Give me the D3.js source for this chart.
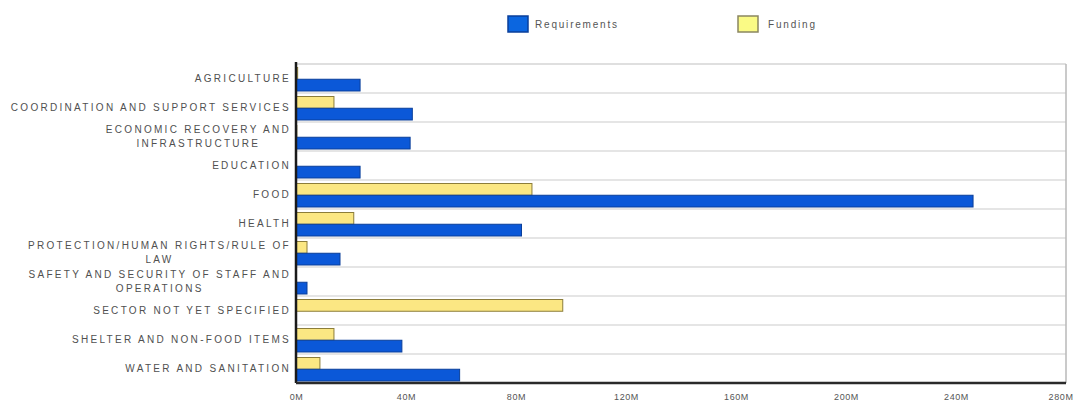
<!DOCTYPE html>
<html>
<head>
<meta charset="utf-8">
<script src="https://cdn.jsdelivr.net/npm/d3@7"></script>
<style>
  body { margin: 0; background: #fff; }
  text { font-family: "Liberation Sans", Arial, sans-serif; }
</style>
</head>
<body>
<svg width="1074" height="405"></svg>
<script>
var categories = [
  ["AGRICULTURE"],
  ["COORDINATION AND SUPPORT SERVICES"],
  ["ECONOMIC RECOVERY AND", "INFRASTRUCTURE"],
  ["EDUCATION"],
  ["FOOD"],
  ["HEALTH"],
  ["PROTECTION/HUMAN RIGHTS/RULE OF", "LAW"],
  ["SAFETY AND SECURITY OF STAFF AND", "OPERATIONS"],
  ["SECTOR NOT YET SPECIFIED"],
  ["SHELTER AND NON-FOOD ITEMS"],
  ["WATER AND SANITATION"]
];
// values in millions (USD)
var requirements = [23.3, 42.3, 41.5, 23.3, 246.2, 82, 16, 4, 0, 38.5, 59.5];
var funding = [0.6, 13.8, 0.3, 0, 85.8, 21, 4, 0, 97, 13.8, 8.7];
var tickValues = [0, 40, 80, 120, 160, 200, 240, 280];
var seriesNames = ["Requirements", "Funding"];

var svg = d3.select("svg");
var plotL = 296, plotR = 1066, plotT = 64, plotB = 383;

var x = d3.scaleLinear().domain([0, 280]).range([plotL, plotR]);
var keys = categories.map(function(d) { return d.join(" "); });
var y = d3.scaleBand().domain(keys).range([plotT, plotB]);
var sub = d3.scaleBand().domain(["Funding", "Requirements"])
  .range([3.5, y.bandwidth() - 2]);

var rows = keys.map(function(k, i) {
  return { key: k, lines: categories[i], req: requirements[i], fund: funding[i] };
});

// grid
svg.append("g")
  .selectAll("line")
  .data(keys.slice(1))
  .enter().append("line")
  .attr("x1", plotL).attr("x2", plotR)
  .attr("y1", function(d) { return y(d); })
  .attr("y2", function(d) { return y(d); })
  .attr("stroke", "#dcdcdc")
  .attr("stroke-width", 1.5);

svg.append("line")
  .attr("x1", plotL).attr("x2", plotR).attr("y1", plotT).attr("y2", plotT)
  .attr("stroke", "#d4d4d4").attr("stroke-width", 1.5);
svg.append("line")
  .attr("x1", plotR).attr("x2", plotR).attr("y1", plotT).attr("y2", plotB)
  .attr("stroke", "#b8b8b8").attr("stroke-width", 1.5);

// bars
var bars = svg.append("g");
bars.selectAll("rect.fund")
  .data(rows.filter(function(d) { return d.fund > 0; }))
  .enter().append("rect")
  .attr("class", "fund")
  .attr("x", x(0))
  .attr("y", function(d) { return y(d.key) + sub("Funding"); })
  .attr("width", function(d) { return x(d.fund) - x(0); })
  .attr("height", sub.bandwidth())
  .attr("fill", "#fbe783")
  .attr("stroke", "#8c7d3a")
  .attr("stroke-width", 1);

bars.selectAll("rect.req")
  .data(rows.filter(function(d) { return d.req > 0; }))
  .enter().append("rect")
  .attr("class", "req")
  .attr("x", x(0))
  .attr("y", function(d) { return y(d.key) + sub("Requirements"); })
  .attr("width", function(d) { return x(d.req) - x(0); })
  .attr("height", sub.bandwidth())
  .attr("fill", "#0b58d8")
  .attr("stroke", "#0a3f9a")
  .attr("stroke-width", 1);

// axes lines
svg.append("line")
  .attr("x1", plotL).attr("x2", plotL).attr("y1", plotT - 2).attr("y2", plotB)
  .attr("stroke", "#1a1a1a").attr("stroke-width", 2.5);
svg.append("line")
  .attr("x1", plotL).attr("x2", plotR).attr("y1", plotB).attr("y2", plotB)
  .attr("stroke", "#2a2a2a").attr("stroke-width", 2.5);

// bottom axis labels
var xAxis = svg.append("g")
  .attr("transform", "translate(0," + plotB + ")")
  .call(d3.axisBottom(x)
    .tickValues(tickValues)
    .tickSize(0)
    .tickPadding(11)
    .tickFormat(function(d) { return d + "M"; }));
xAxis.select(".domain").remove();
xAxis.selectAll("text")
  .attr("font-family", "Liberation Sans, Arial, sans-serif")
  .attr("font-size", 9)
  .attr("letter-spacing", 0.6)
  .attr("fill", "#555");
// last label sits at the right edge: keep it inside the page
xAxis.selectAll(".tick")
  .filter(function(d) { return d === 280; })
  .select("text")
  .attr("text-anchor", "end")
  .attr("x", 7);

// category labels
var labels = svg.append("g")
  .attr("font-size", 10)
  .attr("letter-spacing", 2.3)
  .attr("fill", "#505050");

rows.forEach(function(d) {
  var cy = y(d.key) + y.bandwidth() / 2;
  var t = labels.append("text")
    .attr("text-anchor", "end")
    .attr("x", 291)
    .attr("y", cy - (d.lines.length - 1) * 7 + 3);
  if (d.lines.length === 1) {
    t.text(d.lines[0]);
  } else {
    t.text(d.lines[0]);
    var w = t.node().getComputedTextLength();
    t.attr("text-anchor", "middle").attr("x", 291 - w / 2);
    t.append("tspan")
      .attr("x", 291 - w / 2)
      .attr("dy", 14)
      .text(d.lines[1]);
  }
});

// legend
var legendX = { Requirements: 508, Funding: 738 };
var legend = svg.append("g")
  .selectAll("g")
  .data(seriesNames)
  .enter().append("g")
  .attr("transform", function(d) { return "translate(" + legendX[d] + ",16)"; });
legend.append("rect")
  .attr("width", 20).attr("height", 16)
  .attr("fill", function(d) { return d === "Requirements" ? "#0b66e0" : "#fafa85"; })
  .attr("stroke", function(d) { return d === "Requirements" ? "#0a3f9a" : "#8a8660"; })
  .attr("stroke-width", 1.5);
legend.append("text")
  .attr("x", function(d) { return d === "Requirements" ? 27 : 30; })
  .attr("y", 12)
  .attr("font-size", 10)
  .attr("letter-spacing", 1.8)
  .attr("fill", "#555")
  .text(function(d) { return d; });
</script>
</body>
</html>
